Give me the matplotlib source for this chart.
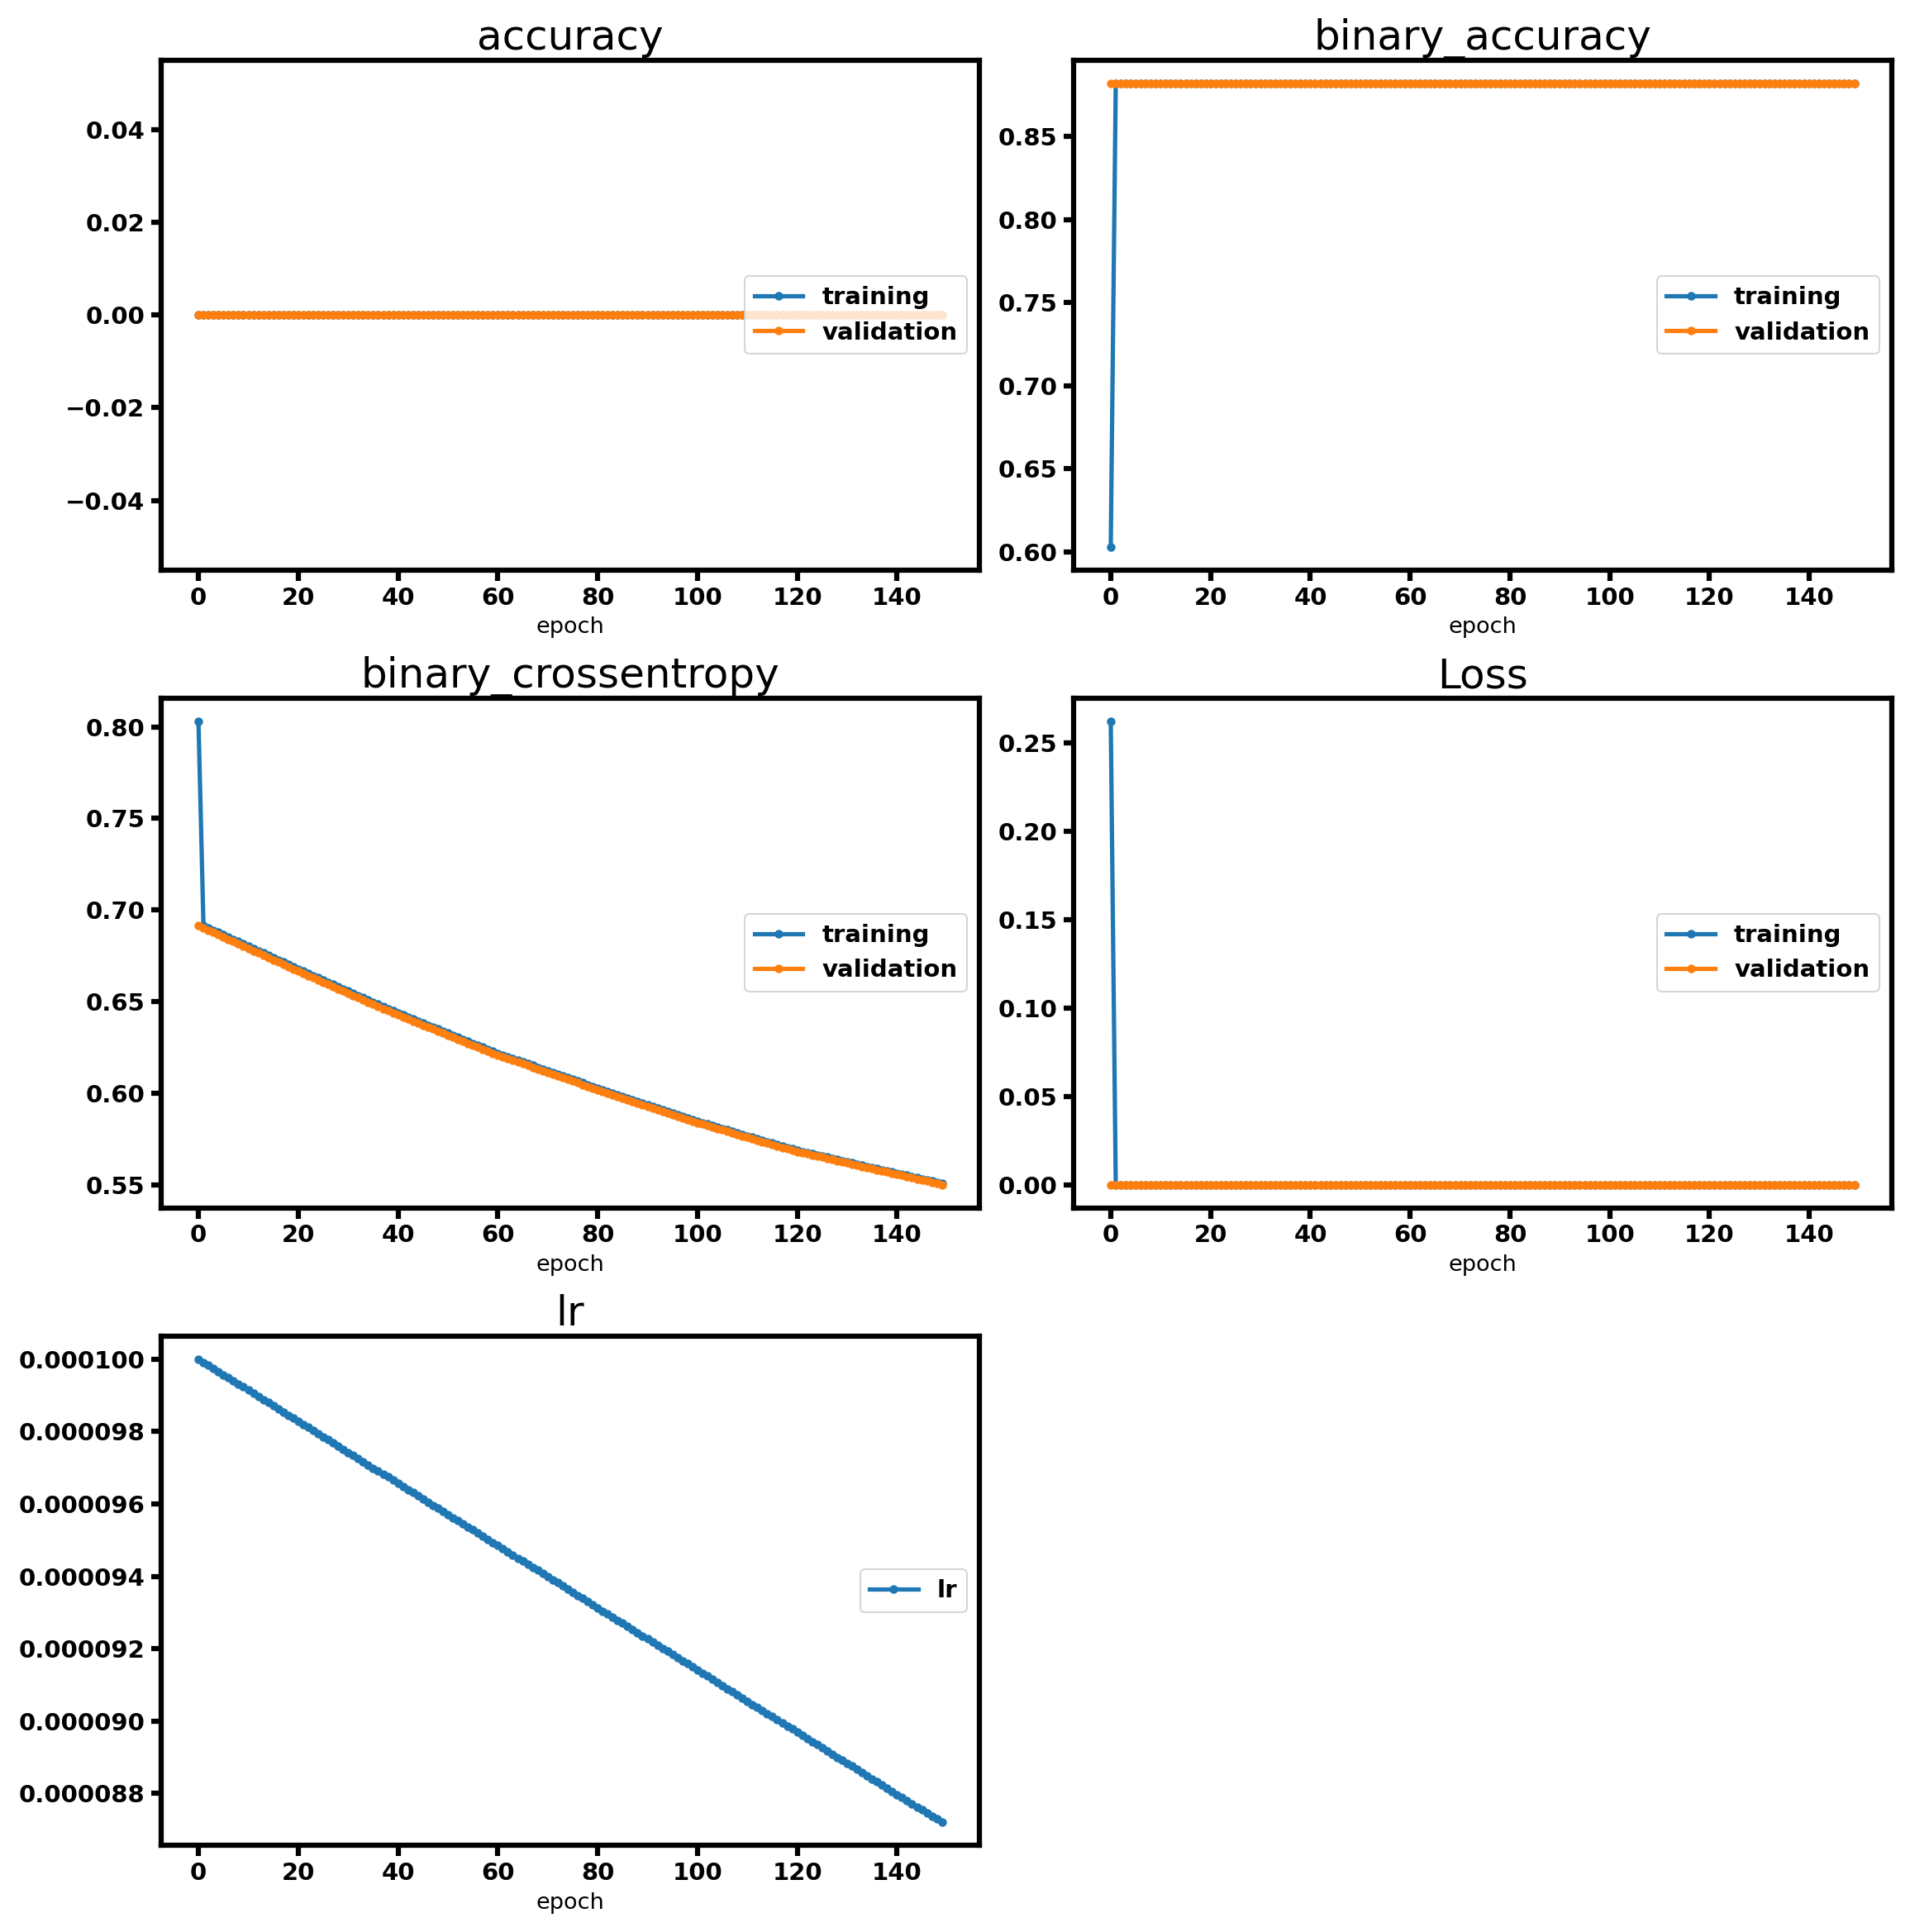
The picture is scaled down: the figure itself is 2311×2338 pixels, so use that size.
import matplotlib
matplotlib.use("Agg")
import matplotlib.pyplot as plt
from matplotlib.ticker import FormatStrFormatter

epochs = list(range(150))

acc_train = [0.0] * 150
acc_val = [0.0] * 150

bacc_train = [0.603] + [0.882] * 149
bacc_val = [0.882] * 150

bce_train = [0.803,
 0.6915, 0.6903, 0.6890, 0.6878, 0.6865, 0.6853, 0.6840, 0.6828, 0.6815, 0.6803,
 0.6790, 0.6778, 0.6765, 0.6753, 0.6740, 0.6728, 0.6715, 0.6703, 0.6690, 0.6678,
 0.6666, 0.6654, 0.6642, 0.6630, 0.6618, 0.6606, 0.6594, 0.6582, 0.6570, 0.6558,
 0.6546, 0.6534, 0.6522, 0.6510, 0.6498, 0.6486, 0.6474, 0.6462, 0.6450, 0.6438,
 0.6427, 0.6416, 0.6405, 0.6394, 0.6383, 0.6372, 0.6361, 0.6350, 0.6339, 0.6328,
 0.6317, 0.6306, 0.6295, 0.6284, 0.6273, 0.6262, 0.6251, 0.6240, 0.6229, 0.6218,
 0.6209, 0.6199, 0.6190, 0.6180, 0.6171, 0.6161, 0.6152, 0.6142, 0.6133, 0.6123,
 0.6114, 0.6104, 0.6095, 0.6085, 0.6076, 0.6066, 0.6057, 0.6047, 0.6038, 0.6028,
 0.6019, 0.6010, 0.6001, 0.5992, 0.5983, 0.5974, 0.5965, 0.5956, 0.5947, 0.5938,
 0.5929, 0.5920, 0.5911, 0.5902, 0.5893, 0.5884, 0.5875, 0.5866, 0.5857, 0.5848,
 0.5840, 0.5832, 0.5824, 0.5816, 0.5808, 0.5800, 0.5792, 0.5784, 0.5776, 0.5768,
 0.5760, 0.5752, 0.5744, 0.5736, 0.5728, 0.5720, 0.5712, 0.5704, 0.5696, 0.5688,
 0.5682, 0.5676, 0.5669, 0.5663, 0.5657, 0.5651, 0.5645, 0.5638, 0.5632, 0.5626,
 0.5620, 0.5614, 0.5607, 0.5601, 0.5595, 0.5589, 0.5583, 0.5576, 0.5570, 0.5564,
 0.5558, 0.5552, 0.5545, 0.5539, 0.5533, 0.5527, 0.5521, 0.5514, 0.5508]
bce_val = bce_train[1:] + [0.5502]

loss_train = [0.262] + [0.0] * 149
loss_val = [0.0] * 150

lr_e6 = [
 100.00, 99.91, 99.83, 99.74, 99.66, 99.57, 99.48, 99.40, 99.31, 99.23,
 99.14, 99.05, 98.97, 98.88, 98.80, 98.71, 98.63, 98.54, 98.45, 98.37,
 98.28, 98.20, 98.11, 98.02, 97.94, 97.85, 97.77, 97.68, 97.59, 97.51,
 97.42, 97.34, 97.25, 97.16, 97.08, 96.99, 96.91, 96.82, 96.74, 96.65,
 96.56, 96.48, 96.39, 96.31, 96.22, 96.13, 96.05, 95.96, 95.88, 95.79,
 95.70, 95.62, 95.53, 95.45, 95.36, 95.28, 95.19, 95.10, 95.02, 94.93,
 94.85, 94.76, 94.67, 94.59, 94.50, 94.42, 94.33, 94.24, 94.16, 94.07,
 93.99, 93.90, 93.82, 93.73, 93.64, 93.56, 93.47, 93.39, 93.30, 93.21,
 93.13, 93.04, 92.96, 92.87, 92.78, 92.70, 92.61, 92.53, 92.44, 92.35,
 92.27, 92.18, 92.10, 92.01, 91.93, 91.84, 91.75, 91.67, 91.58, 91.50,
 91.41, 91.32, 91.24, 91.15, 91.07, 90.98, 90.89, 90.81, 90.72, 90.64,
 90.55, 90.46, 90.38, 90.29, 90.21, 90.12, 90.04, 89.95, 89.86, 89.78,
 89.69, 89.61, 89.52, 89.43, 89.35, 89.26, 89.18, 89.09, 89.00, 88.92,
 88.83, 88.75, 88.66, 88.57, 88.49, 88.40, 88.32, 88.23, 88.15, 88.06,
 87.97, 87.89, 87.80, 87.72, 87.63, 87.54, 87.46, 87.37, 87.29, 87.20]
lr = [v * 1e-6 for v in lr_e6]

fig, axes = plt.subplots(3, 2, figsize=(2311/150, 2338/150), dpi=150)
axes = axes.ravel()

def style(ax, title):
    ax.set_title(title, fontsize=24)
    ax.set_xlabel("epoch", fontsize=13)
    for s in ax.spines.values():
        s.set_linewidth(3)
    ax.tick_params(width=3, length=6, labelsize=14)
    for t in ax.get_xticklabels() + ax.get_yticklabels():
        t.set_fontweight("bold")
    leg = ax.legend(loc="center right", prop={"weight": "bold", "size": 14})

kw = dict(marker="o", markersize=4, linewidth=2.5)
panels = [("accuracy", acc_train, acc_val), ("binary_accuracy", bacc_train, bacc_val),
          ("binary_crossentropy", bce_train, bce_val), ("Loss", loss_train, loss_val)]
for ax, (t, tr, va) in zip(axes, panels):
    ax.plot(epochs, tr, label="training", **kw)
    ax.plot(epochs, va, label="validation", **kw)
    ax.set_xticks(range(0, 150, 20))
    style(ax, t)

ax = axes[4]
ax.plot(epochs, lr, label="lr", **kw)
ax.set_xticks(range(0, 150, 20))
ax.yaxis.set_major_formatter(FormatStrFormatter("%.6f"))
style(ax, "lr")
axes[5].axis("off")

fig.tight_layout()
fig.savefig("out.png", dpi=150)
